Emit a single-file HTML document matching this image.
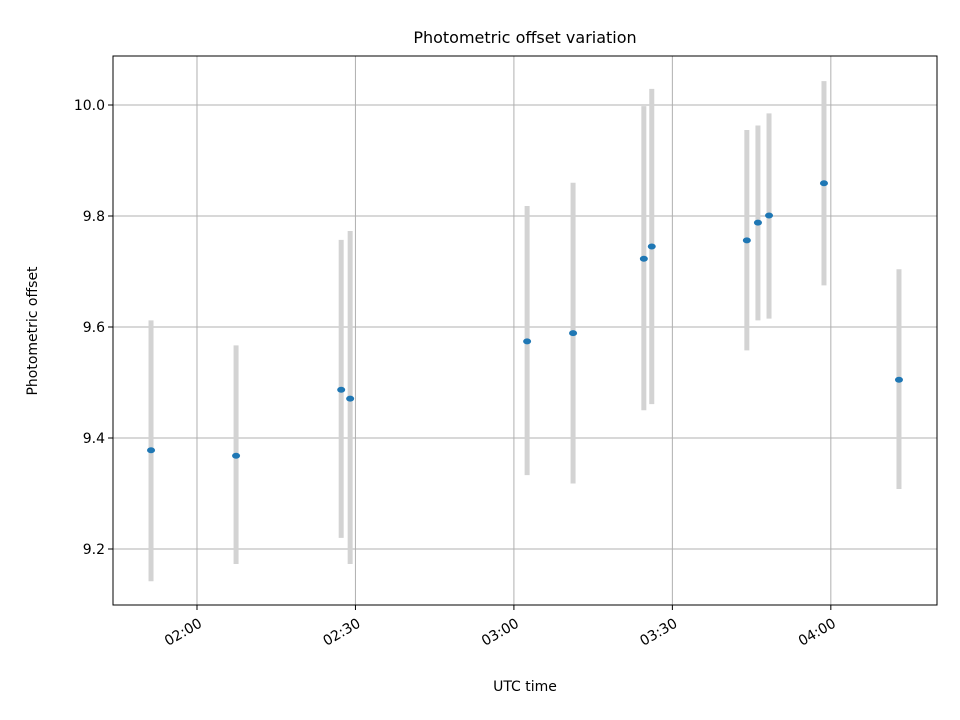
<!DOCTYPE html>
<html><head><meta charset="utf-8"><style>
html,body{margin:0;padding:0;background:#fff;}
svg{display:block;font-family:"DejaVu Sans","Liberation Sans",sans-serif;}
</style></head><body>
<svg id="chart" width="960" height="720">
<rect x="0" y="0" width="960" height="720" fill="#fff"/>
<text x="525" y="43" font-size="16" text-anchor="middle">Photometric offset variation</text>
<g id="grid"></g>
<g id="marks"></g>
<rect x="113" y="56" width="824" height="549" fill="none" stroke="#000" stroke-width="1"/>
<g id="axes"></g>
<text x="525" y="691" font-size="14" text-anchor="middle">UTC time</text>
<text transform="translate(37,331) rotate(-90)" font-size="14" text-anchor="middle">Photometric offset</text>
</svg>
<script>
// minutes since 02:00 UTC
const times = [-8.7, 7.4, 27.3, 29.0, 62.5, 71.2, 84.6, 86.1, 104.1, 106.2, 108.3, 118.7, 132.9];
const offsets = [9.378, 9.368, 9.487, 9.471, 9.574, 9.589, 9.723, 9.745, 9.756, 9.788, 9.801, 9.859, 9.505];
const errUpper = [9.612, 9.567, 9.757, 9.773, 9.818, 9.860, 9.998, 10.029, 9.955, 9.963, 9.985, 10.043, 9.704];
const errLower = [9.142, 9.173, 9.220, 9.173, 9.333, 9.318, 9.450, 9.461, 9.558, 9.612, 9.615, 9.675, 9.308];
const yTicks = [9.2, 9.4, 9.6, 9.8, 10.0];
const yTickLabels = ["9.2", "9.4", "9.6", "9.8", "10.0"];
const xTicks = [0, 30, 60, 90, 120];
const xTickLabels = ["02:00", "02:30", "03:00", "03:30", "04:00"];

const L=113,R=937,T=56,B=605;
const xMin=-15.9,xMax=140.1,yMin=9.0991,yMax=10.0883;
const xs=v=>L+(v-xMin)/(xMax-xMin)*(R-L);
const ys=v=>B-(v-yMin)/(yMax-yMin)*(B-T);
const NS="http://www.w3.org/2000/svg";
function mk(tag,attrs,parent){const e=document.createElementNS(NS,tag);for(const k in attrs)e.setAttribute(k,attrs[k]);parent.appendChild(e);return e;}
const grid=document.getElementById('grid'),marks=document.getElementById('marks'),axes=document.getElementById('axes');
yTicks.forEach((v,i)=>{
  const y=ys(v);
  const g=mk('line',{x1:L,x2:R,y1:y,y2:y,stroke:'#b0b0b0','stroke-width':1},grid);
  
  
  const t=mk('line',{x1:L-5,x2:L,y1:y,y2:y,stroke:'#000'},axes);
  
  
  const tx=mk('text',{x:L-8,y:y+5,'font-size':14,'text-anchor':'end'},axes);
  tx.textContent=yTickLabels[i];
  
  
});
xTicks.forEach((v,i)=>{
  const x=xs(v);
  const g=mk('line',{x1:x,x2:x,y1:T,y2:B,stroke:'#b0b0b0','stroke-width':1},grid);
  
  
  const t=mk('line',{x1:x,x2:x,y1:B,y2:B+5,stroke:'#000'},axes);
  
  
  const tx=mk('text',{transform:`translate(${x+6},${B+21}) rotate(-30)`,'font-size':14,'text-anchor':'end'},axes);
  tx.textContent=xTickLabels[i];
  
  
});
times.forEach((t,i)=>{
  const x=xs(t);
  const e=mk('line',{x1:x,x2:x,y1:ys(errUpper[i]),y2:ys(errLower[i]),stroke:'#d3d3d3','stroke-width':5},marks);
  
  
});
times.forEach((t,i)=>{
  const p=mk('ellipse',{cx:xs(t),cy:ys(offsets[i]),rx:4,ry:3,fill:'#1f77b4'},marks);
  
  
});
</script>
</body></html>
